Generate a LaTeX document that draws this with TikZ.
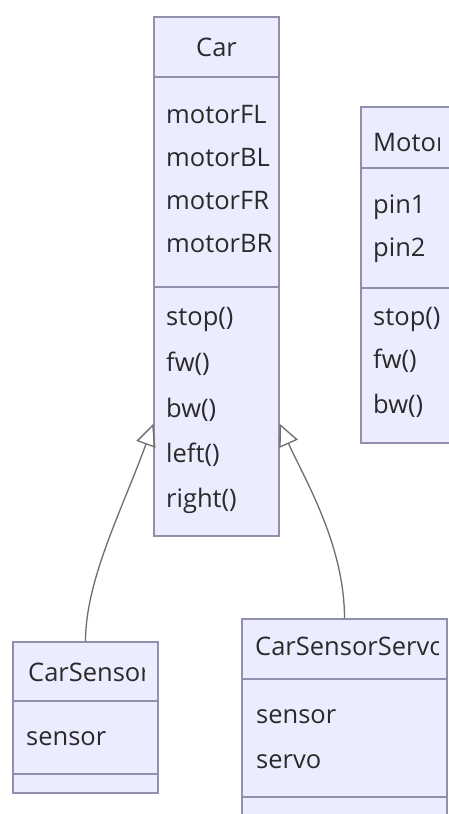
\documentclass[tikz,border=0pt]{standalone}
\usepackage{fontspec}
\setmainfont{Open Sans}
\usetikzlibrary{arrows.meta,calc}
\definecolor{boxfill}{HTML}{ECECFF}
\definecolor{boxline}{HTML}{928EAE}
\definecolor{linkc}{HTML}{6E6E6E}
\definecolor{txt}{HTML}{2A2A2A}
\begin{document}
\begin{tikzpicture}[x=1pt,y=-1pt,
  classbox/.style={draw=boxline, fill=boxfill, line width=1.2pt, rectangle, inner sep=0pt},
  member/.style={anchor=base west, inner sep=0pt, text=txt, font=\fontsize{25.5}{30}\selectfont},
  ctitle/.style={anchor=base, inner sep=0pt, text=txt, font=\fontsize{25.5}{30}\selectfont},
  sepline/.style={draw=boxline, line width=1.2pt},
  inherit/.style={draw=linkc, line width=1.3pt, -{Triangle[open,length=22pt,width=20pt]}}
]
\fill[white] (0,0) rectangle (448,814);
\useasboundingbox (0,0) rectangle (448,814);

% Car
\node[classbox, minimum width=125pt, minimum height=519pt] (car) at (216.5,276.5) {};
\draw[sepline] (154,77) -- (279,77);
\draw[sepline] (154,287) -- (279,287);
\node[ctitle] (cartitle) at (216.5,56) {Car};
\node[member] (c1) at (166,123.5) {motorFL};
\node[member] (c2) at (166,166.5) {motorBL};
\node[member] (c3) at (166,209.5) {motorFR};
\node[member] (c4) at (166,252.5) {motorBR};
\node[member] (c5) at (166,325) {stop()};
\node[member] (c6) at (166,371) {fw()};
\node[member] (c7) at (166,417) {bw()};
\node[member] (c8) at (166,462) {left()};
\node[member] (c9) at (166,507) {right()};

% Motor
\node[classbox, minimum width=95pt, minimum height=336pt] (motor) at (408.5,275) {};
\draw[sepline] (361,168) -- (456,168);
\draw[sepline] (361,288) -- (456,288);
\begin{scope}
  \clip (361,107) rectangle (439,168);
  \node[member] (motortitle) at (373,151.5) {Motor};
\end{scope}
\node[member] (m1) at (373,213) {pin1};
\node[member] (m2) at (373,256) {pin2};
\node[member] (m3) at (373,325) {stop()};
\node[member] (m4) at (373,368) {fw()};
\node[member] (m5) at (373,413) {bw()};

% CarSensor
\node[classbox, minimum width=145pt, minimum height=151pt] (cs) at (85.5,717.5) {};
\draw[sepline] (13,701) -- (158,701);
\draw[sepline] (13,774) -- (158,774);
\begin{scope}
  \clip (13,642) rectangle (144,701);
  \node[member] (cstitle) at (28,681.5) {CarSensor};
\end{scope}
\node[member] (cs1) at (26,745) {sensor};

% CarSensorServo
\node[classbox, minimum width=205pt, minimum height=211pt] (css) at (344.5,724.5) {};
\draw[sepline] (242,679) -- (447,679);
\draw[sepline] (242,797) -- (447,797);
\begin{scope}
  \clip (242,619) rectangle (438,679);
  \node[member] (csstitle) at (255,655.5) {CarSensorServo};
\end{scope}
\node[member] (css1) at (256,723) {sensor};
\node[member] (css2) at (256,768) {servo};

% inheritance
\draw[inherit] (cs.north) .. controls (85.5,580) and (122,510) .. ($(car.north west)!0.783!(car.south west)$);
\draw[inherit] (css.north) .. controls (344.5,545) and (305,480) .. ($(car.north east)!0.783!(car.south east)$);
\end{tikzpicture}
\end{document}
